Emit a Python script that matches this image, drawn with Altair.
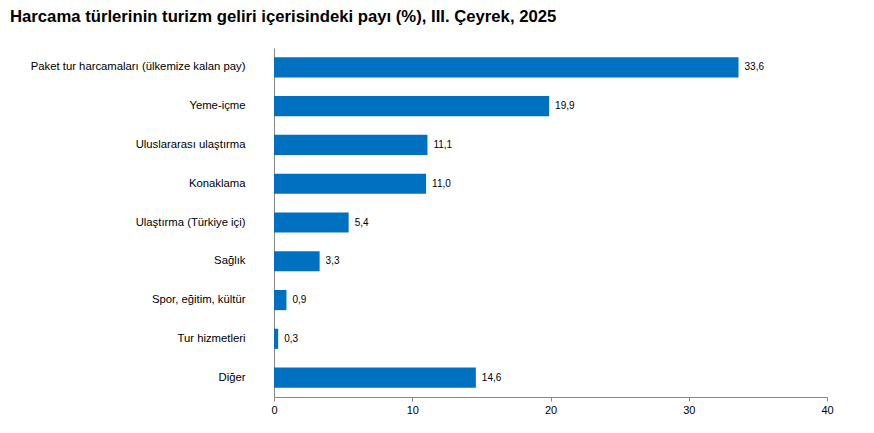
import altair as alt
import pandas as pd

categories = [
    "Paket tur harcamaları (ülkemize kalan pay)",
    "Yeme-içme",
    "Uluslararası ulaştırma",
    "Konaklama",
    "Ulaştırma (Türkiye içi)",
    "Sağlık",
    "Spor, eğitim, kültür",
    "Tur hizmetleri",
    "Diğer",
]
values = [33.6, 19.9, 11.1, 11.0, 5.4, 3.3, 0.9, 0.3, 14.6]
x_ticks = [0, 10, 20, 30, 40]
title_text = "Harcama türlerinin turizm geliri içerisindeki payı (%), III. Çeyrek, 2025"

df = pd.DataFrame({
    "kategori": categories,
    "deger": values,
    "etiket": [f"{v:.1f}".replace(".", ",") for v in values],
})

FONT = "Liberation Sans"

y_enc = alt.Y(
    "kategori:N",
    sort=categories,
    title=None,
    scale=alt.Scale(paddingInner=0.48, paddingOuter=0.24),
    axis=alt.Axis(
        ticks=False,
        domainColor="#888888",
        labelFont=FONT,
        labelFontSize=11.3,
        labelColor="#000000",
        labelPadding=29,
        labelLimit=400,
    ),
)

x_enc = alt.X(
    "deger:Q",
    title=None,
    scale=alt.Scale(domain=[0, 40], nice=False),
    axis=alt.Axis(
        values=x_ticks,
        grid=False,
        domainColor="#888888",
        tickColor="#888888",
        tickSize=4,
        labelFlush=False,
        labelFont=FONT,
        labelFontSize=11,
        labelColor="#000000",
        labelPadding=3,
    ),
)

bars = alt.Chart(df).mark_bar(color="#0070C0").encode(x=x_enc, y=y_enc)

texts = alt.Chart(df).mark_text(
    align="left", baseline="middle", dx=6, font=FONT, fontSize=10, color="#000000"
).encode(x="deger:Q", y=alt.Y("kategori:N", sort=categories), text="etiket:N")

chart = (
    alt.layer(bars, texts)
    .properties(
        width=553,
        height=349,
        autosize=alt.AutoSizeParams(type="none"),
        padding={"left": 266, "top": 40, "right": 39, "bottom": 28},
        title=alt.TitleParams(
            title_text,
            anchor="start",
            frame="group",
            font=FONT,
            fontSize=16.7,
            fontWeight="bold",
            color="#000000",
            dx=-264,
            dy=-18,
        ),
    )
    .configure_view(stroke=None)
)

chart.save("out.html", embed_options={"renderer": "svg", "actions": False})
